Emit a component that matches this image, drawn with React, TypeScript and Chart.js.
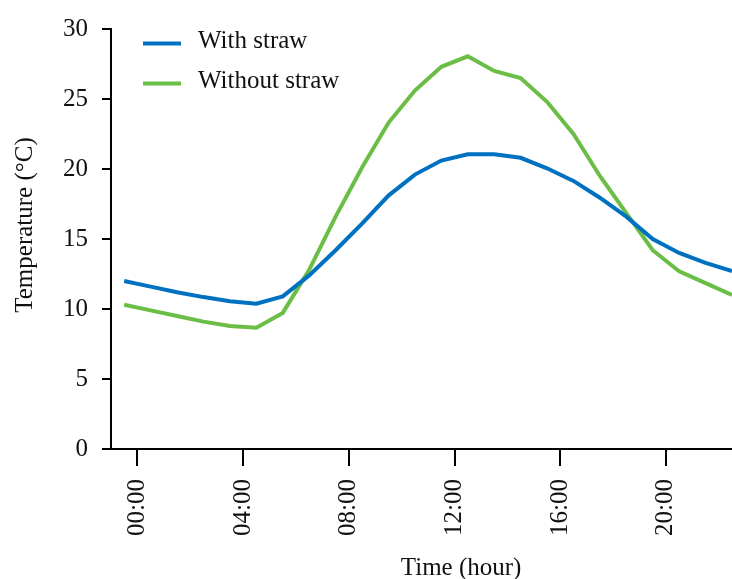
import React, { useEffect, useRef } from "react";
import { Chart, registerables } from "chart.js";

Chart.register(...registerables);

const hours = [-0.5, 0.5, 1.5, 2.5, 3.5, 4.5, 5.5, 6.5, 7.5, 8.5, 9.5, 10.5, 11.5, 12.5, 13.5, 14.5, 15.5, 16.5, 17.5, 18.5, 19.5, 20.5, 21.5, 22.5];
const withStraw = [12.0, 11.6, 11.2, 10.85, 10.55, 10.38, 10.9, 12.4, 14.2, 16.1, 18.1, 19.6, 20.6, 21.05, 21.05, 20.8, 20.05, 19.15, 17.95, 16.6, 15.0, 14.0, 13.3, 12.7];
const withoutStraw = [10.3, 9.9, 9.5, 9.1, 8.78, 8.66, 9.72, 12.8, 16.6, 20.1, 23.3, 25.6, 27.3, 28.05, 27.0, 26.5, 24.8, 22.5, 19.5, 16.85, 14.2, 12.7, 11.85, 11.0];
const seriesLabels = ["With straw", "Without straw"];
const seriesColors = ["#0070C0", "#6ABD45"];
const xTickValues = [0, 4, 8, 12, 16, 20];
const xTickLabels = ["00:00", "04:00", "08:00", "12:00", "16:00", "20:00"];
const xTitle = "Time (hour)";
const yTitle = "Temperature (°C)";

const FONT = '"Liberation Serif", "Times New Roman", serif';
const FS = 25;

const overlayPlugin = {
  id: "overlay",
  afterDraw(chart: any) {
    const ctx = chart.ctx;
    const area = chart.chartArea;
    const xs = chart.scales.x;
    const ys = chart.scales.y;
    ctx.save();
    // legend
    ctx.font = `${FS}px ${FONT}`;
    ctx.textBaseline = "middle";
    ctx.textAlign = "left";
    chart.data.datasets.forEach((ds: any, i: number) => {
      const y = area.top + 14.5 + i * 40;
      ctx.strokeStyle = ds.borderColor;
      ctx.lineWidth = 4;
      ctx.beginPath();
      ctx.moveTo(area.left + 32, y);
      ctx.lineTo(area.left + 70, y);
      ctx.stroke();
      ctx.fillStyle = "#111";
      ctx.fillText(ds.label, area.left + 87, y - 2);
    });
    // x title
    ctx.textAlign = "center";
    ctx.fillText(xTitle, xs.getPixelForValue(12.25), area.bottom + 119);
    // y title
    ctx.translate(25, ys.getPixelForValue(16));
    ctx.rotate(-Math.PI / 2);
    ctx.fillText(yTitle, 0, 0);
    ctx.restore();
  },
};

export default function App() {
  const ref = useRef<HTMLCanvasElement | null>(null);
  useEffect(() => {
    if (!ref.current) return;
    const chart = new Chart(ref.current, {
      type: "line",
      data: {
        datasets: [
          {
            label: seriesLabels[0],
            data: hours.map((h, i) => ({ x: h, y: withStraw[i] })),
            borderColor: seriesColors[0],
            backgroundColor: seriesColors[0],
            borderWidth: 4,
            pointRadius: 0,
            tension: 0,
          },
          {
            label: seriesLabels[1],
            data: hours.map((h, i) => ({ x: h, y: withoutStraw[i] })),
            borderColor: seriesColors[1],
            backgroundColor: seriesColors[1],
            borderWidth: 4,
            pointRadius: 0,
            tension: 0,
          },
        ],
      },
      options: {
        responsive: false,
        animation: false,
        layout: { padding: { left: 63, top: 25, right: 0, bottom: 0 } },
        plugins: { legend: { display: false }, tooltip: { enabled: false } },
        scales: {
          x: {
            type: "linear",
            min: -1,
            max: 22.5,
            afterBuildTicks: (scale: any) => {
              scale.ticks = xTickValues.map((v) => ({ value: v }));
            },
            afterFit: (scale: any) => {
              scale.height = 130;
            },
            ticks: {
              autoSkip: false,
              minRotation: 90,
              maxRotation: 90,
              padding: 13,
              color: "#111",
              font: { family: FONT, size: FS },
              callback: (v: any) => {
                const i = xTickValues.indexOf(Number(v));
                return i >= 0 ? xTickLabels[i] : "";
              },
            },
            grid: {
              display: true,
              drawOnChartArea: false,
              drawTicks: true,
              tickLength: 17,
              color: "#000",
              lineWidth: 2,
            },
            border: { display: true, color: "#000", width: 2 },
          },
          y: {
            min: 0,
            max: 30,
            afterFit: (scale: any) => {
              scale.width = 48;
            },
            ticks: {
              stepSize: 5,
              padding: 14,
              color: "#111",
              font: { family: FONT, size: FS },
            },
            grid: {
              display: true,
              drawOnChartArea: false,
              drawTicks: true,
              tickLength: 9,
              color: "#000",
              lineWidth: 2,
            },
            border: { display: true, color: "#000", width: 2 },
          },
        },
      },
      plugins: [overlayPlugin],
    });
    return () => chart.destroy();
  }, []);
  return (
    <div style={{ position: "absolute", left: 0, top: 0, width: 732, height: 579, background: "#fff" }}>
      <canvas ref={ref} width={732} height={579} />
    </div>
  );
}
